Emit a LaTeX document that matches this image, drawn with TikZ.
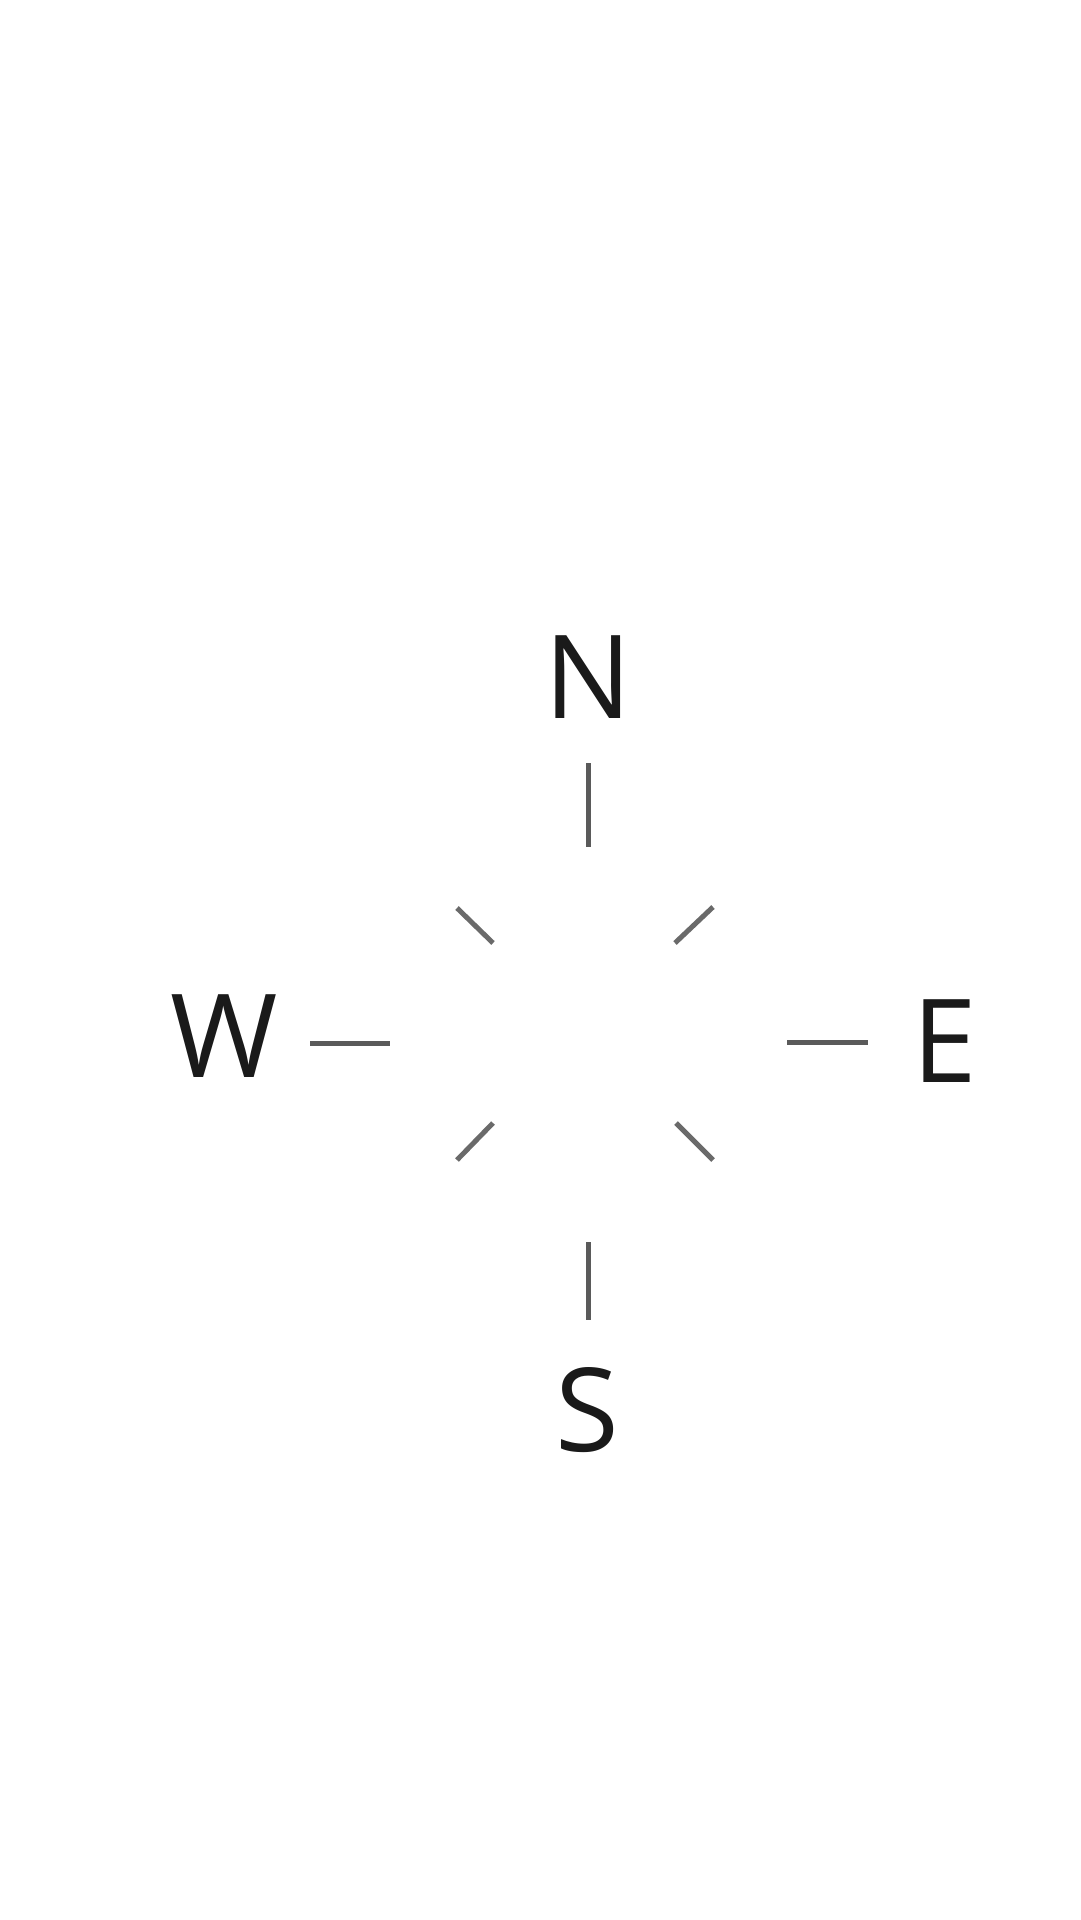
\documentclass[tikz,border=0pt]{standalone}
\usepackage{fontspec}
\setmainfont{Open Sans}
\definecolor{tickgray}{HTML}{5A5A5A}
\definecolor{diaggray}{HTML}{6A6A6A}
\definecolor{lettercol}{HTML}{1A1A1A}
\tikzset{
  letter/.style={font=\fontsize{116}{116}\selectfont, text=lettercol, inner sep=0pt, anchor=base},
  tick/.style={draw=tickgray, line width=5pt},
  diagtick/.style={draw=diaggray, line width=5pt}
}
\begin{document}
\begin{tikzpicture}[x=1pt,y=-1pt]
\useasboundingbox[fill=white] (0,0) rectangle (1080,1920);
\node[letter] (n) at (588,718) {N};
\node[letter] (w) at (224,1077) {W};
\node[letter] (e) at (945,1082) {E};
\node[letter] (s) at (587,1451) {S};
% cardinal ticks
\draw[tick] (588,763) -- (588,847);
\draw[tick] (588,1242) -- (588,1320);
\draw[tick] (310,1043) -- (390,1043);
\draw[tick] (787,1042) -- (868,1042);
% diagonal ticks
\draw[diagtick] (457,908) -- (493,943);
\draw[diagtick] (675,943) -- (713,907);
\draw[diagtick] (457,1160) -- (493,1123);
\draw[diagtick] (676,1123) -- (713,1160);
\end{tikzpicture}
\end{document}
